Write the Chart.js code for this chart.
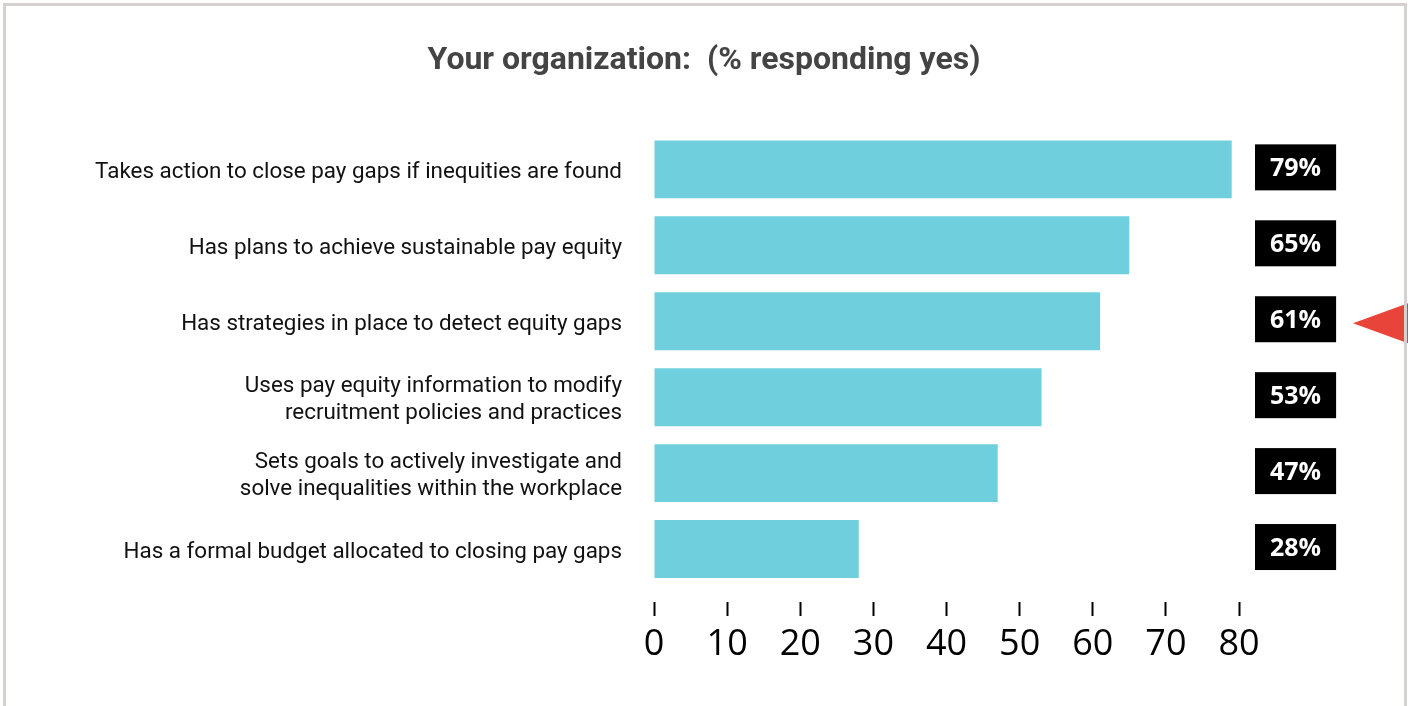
<!DOCTYPE html>
<html lang="en">
<head>
    <meta charset="UTF-8">
    <title>Your organization: (% responding yes)</title>
    <script src="https://cdn.jsdelivr.net/npm/chart.js"></script>
    <style>
        body {
            margin: 0;
            background-color: #fff;
        }
        .wrap {
            position: relative;
            width: 1408px;
            height: 706px;
            overflow: hidden;
        }
        .frame {
            position: absolute;
            left: 3px;
            top: 3px;
            width: 1404px;
            height: 800px;
            box-sizing: border-box;
            border: 3px solid #d6d1d1;
            pointer-events: none;
        }
    </style>
</head>
<body>
    <div class="wrap">
        <canvas id="yesChart" width="1408" height="706"></canvas>
        <div class="frame"></div>
    </div>
    <script>
        const categories = [
            'Takes action to close pay gaps if inequities are found',
            'Has plans to achieve sustainable pay equity',
            'Has strategies in place to detect equity gaps',
            ['Uses pay equity information to modify', 'recruitment policies and practices'],
            ['Sets goals to actively investigate and', 'solve inequalities within the workplace'],
            'Has a formal budget allocated to closing pay gaps'
        ];
        const yesPercent = [79, 65, 61, 53, 47, 28];
        const axisMin = 0;
        const axisMax = 80;
        const axisStep = 10;
        const highlightedRow = 2;

        const valueLabels = yesPercent.map(v => v + '%');

        // red pointer at the right edge, aimed at one row
        const rowPointer = {
            id: 'rowPointer',
            afterDraw(chart) {
                const ctx = chart.ctx;
                const y = chart.scales.y.getPixelForValue(highlightedRow) + 2;
                const tipX = chart.chartArea.right + 114;
                ctx.save();
                ctx.fillStyle = '#e8443a';
                ctx.beginPath();
                ctx.moveTo(tipX, y);
                ctx.lineTo(chart.width, y - 20);
                ctx.lineTo(chart.width, y + 20);
                ctx.closePath();
                ctx.fill();
                ctx.restore();
            }
        };

        new Chart(document.getElementById('yesChart'), {
            type: 'bar',
            data: {
                labels: categories,
                datasets: [{
                    data: yesPercent,
                    backgroundColor: '#6fcfdc',
                    borderWidth: 0,
                    categoryPercentage: 1,
                    barPercentage: 0.763
                }]
            },
            options: {
                indexAxis: 'y',
                responsive: false,
                devicePixelRatio: 1,
                animation: false,
                layout: { padding: 0 },
                plugins: {
                    legend: { display: false },
                    tooltip: { enabled: false },
                    title: {
                        display: true,
                        text: 'Your organization:  (% responding yes)',
                        color: '#444444',
                        font: { family: 'Roboto', weight: 'bold', size: 32, lineHeight: 1.2 },
                        padding: { top: 42, bottom: 51 }
                    }
                },
                scales: {
                    x: {
                        min: axisMin,
                        max: axisMax,
                        border: { display: false },
                        grid: {
                            drawOnChartArea: false,
                            drawTicks: true,
                            tickLength: 29,
                            tickWidth: 2,
                            tickColor: '#000',
                            tickBorderDash: [14, 15],
                            tickBorderDashOffset: 14
                        },
                        ticks: {
                            stepSize: axisStep,
                            maxRotation: 0,
                            autoSkip: false,
                            padding: 7,
                            color: '#000',
                            font: { family: '"Open Sans", sans-serif', size: 36 }
                        },
                        afterFit(scale) { scale.height = 119; }
                    },
                    y: {
                        border: { display: false },
                        grid: { display: false, drawTicks: false },
                        ticks: {
                            padding: 32,
                            labelOffset: 3,
                            color: '#111',
                            font: { family: 'Roboto', size: 22.4, lineHeight: 1.2 }
                        },
                        afterFit(scale) { scale.width = 654; }
                    },
                    yValues: {
                        type: 'category',
                        position: 'right',
                        labels: valueLabels,
                        offset: true,
                        border: { display: false },
                        grid: { display: false, drawTicks: false },
                        ticks: {
                            padding: 31,
                            color: '#fff',
                            font: { family: '"Open Sans", sans-serif', weight: 'bold', size: 25, lineHeight: 1.2 },
                            showLabelBackdrop: true,
                            backdropColor: '#000',
                            backdropPadding: { left: 15, right: 15, top: 10, bottom: 6 }
                        },
                        afterFit(scale) { scale.width = 169; }
                    }
                }
            },
            plugins: [rowPointer]
        });
    </script>
</body>
</html>
